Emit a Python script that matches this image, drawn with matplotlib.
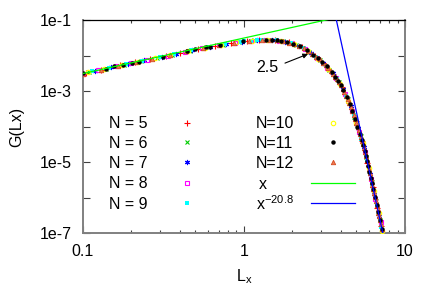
import matplotlib
matplotlib.use("Agg")
import matplotlib.pyplot as plt
import numpy as np
from matplotlib.ticker import LogLocator, FixedLocator, NullFormatter, FixedFormatter

plt.rcParams['font.family'] = ['Liberation Sans', 'DejaVu Sans']
plt.rcParams['mathtext.default'] = 'regular'

# ---------------- data ----------------
n5_x = [0.105, 0.13, 0.17, 0.21, 0.26, 0.33, 0.40, 0.52, 0.66, 0.83, 1.05, 1.25, 1.55, 1.9, 2.3,
        2.75, 3.2, 3.6, 4.05, 4.5, 4.95, 5.4, 5.85, 6.3, 6.75, 7.1]
n5_g = [3.24e-3, 3.98e-3, 5.25e-3, 6.46e-3, 7.76e-3, 9.77e-3, 1.17e-2, 1.55e-2, 1.86e-2, 2.19e-2,
        2.57e-2, 2.72e-2, 2.69e-2, 2.34e-2, 1.70e-2, 1.00e-2, 5.37e-3, 2.95e-3, 1.32e-3, 4.68e-4,
        1.41e-4, 3.98e-5, 9.55e-6, 2.04e-6, 5.01e-7, 1.62e-7]

n6_x = [0.11, 0.14, 0.18, 0.23, 0.29, 0.36, 0.46, 0.58, 0.74, 0.93, 1.15, 1.45, 1.75, 2.1, 2.55,
        2.95, 3.4, 3.9, 4.4, 4.85, 5.3, 5.75, 6.2, 6.6, 7.0]
n6_g = [3.47e-3, 4.27e-3, 5.50e-3, 6.92e-3, 8.51e-3, 1.05e-2, 1.38e-2, 1.70e-2, 2.00e-2, 2.40e-2,
        2.66e-2, 2.75e-2, 2.51e-2, 2.00e-2, 1.29e-2, 7.59e-3, 3.98e-3, 1.78e-3, 5.89e-4, 1.86e-4,
        5.25e-5, 1.35e-5, 2.82e-6, 7.94e-7, 2.34e-7]

n7_x = [0.12, 0.15, 0.19, 0.24, 0.31, 0.38, 0.48, 0.62, 0.78, 0.97, 1.2, 1.5, 1.8, 2.2, 2.6,
        3.1, 3.55, 4.1, 4.6, 5.1, 5.55, 6.05, 6.45, 6.9]
n7_g = [3.72e-3, 4.68e-3, 5.89e-3, 7.41e-3, 9.12e-3, 1.12e-2, 1.41e-2, 1.78e-2, 2.14e-2, 2.45e-2,
        2.69e-2, 2.72e-2, 2.45e-2, 1.86e-2, 1.20e-2, 6.17e-3, 3.16e-3, 1.17e-3, 3.72e-4, 9.12e-5,
        2.57e-5, 4.68e-6, 1.26e-6, 3.09e-7]

n8_x = [0.10, 0.125, 0.16, 0.2, 0.25, 0.34, 0.43, 0.55, 0.7, 0.88, 1.1, 1.35, 1.65, 2.0, 2.4,
        2.85, 3.3, 3.75, 4.25, 4.7, 5.2, 5.65, 6.15, 6.55, 7.05]
n8_g = [3.09e-3, 3.80e-3, 5.01e-3, 6.17e-3, 7.59e-3, 1.00e-2, 1.29e-2, 1.62e-2, 1.95e-2, 2.29e-2,
        2.63e-2, 2.75e-2, 2.63e-2, 2.19e-2, 1.51e-2, 8.71e-3, 4.57e-3, 2.34e-3, 8.32e-4, 2.82e-4,
        6.92e-5, 1.91e-5, 3.31e-6, 9.12e-7, 2.00e-7]

n9_x = [0.115, 0.145, 0.185, 0.235, 0.3, 0.37, 0.47, 0.6, 0.76, 0.95, 1.0, 1.1, 1.2, 1.3, 1.6,
        1.95, 2.35, 2.8, 3.25, 3.8, 4.3, 4.8, 5.35, 5.8, 6.25, 6.7, 7.12]
n9_g = [3.55e-3, 4.47e-3, 5.69e-3, 7.08e-3, 8.91e-3, 1.08e-2, 1.40e-2, 1.74e-2, 2.09e-2, 2.43e-2,
        2.51e-2, 2.63e-2, 2.72e-2, 2.75e-2, 2.66e-2, 2.24e-2, 1.58e-2, 9.33e-3, 5.01e-3, 2.14e-3,
        7.41e-4, 2.14e-4, 4.57e-5, 1.12e-5, 2.40e-6, 5.75e-7, 1.51e-7]

n10_x = [0.108, 0.135, 0.175, 0.22, 0.28, 0.35, 0.45, 0.57, 0.72, 0.9, 1.12, 1.4, 1.7, 2.05, 2.5,
         2.9, 3.35, 3.95, 4.45, 5.0, 5.45, 5.95, 6.4, 6.85, 7.2]
n10_g = [3.39e-3, 4.17e-3, 5.37e-3, 6.76e-3, 8.32e-3, 1.02e-2, 1.35e-2, 1.68e-2, 1.97e-2, 2.34e-2,
         2.63e-2, 2.75e-2, 2.57e-2, 2.09e-2, 1.35e-2, 8.13e-3, 4.27e-3, 1.62e-3, 5.25e-4, 1.23e-4,
         3.47e-5, 6.61e-6, 1.48e-6, 3.63e-7, 1.12e-7]

n11_x = [0.101, 0.139, 0.157, 0.179, 0.201, 0.223, 0.316, 0.442, 0.497, 0.580, 0.616, 0.711, 0.99,
         1.38, 1.49, 1.60, 1.71, 1.84, 2.02, 2.23, 2.45, 2.70, 2.88, 3.04, 3.26, 3.51, 3.70, 3.85,
         4.00, 4.14, 4.34, 4.55, 4.72, 4.89, 5.07, 5.25, 5.38, 5.51, 5.62, 5.72, 5.81, 5.91, 6.02,
         6.12, 6.23, 6.35, 6.51, 6.67, 6.82, 6.99, 7.16]
n11_g = [3.16e-3, 4.27e-3, 4.90e-3, 5.50e-3, 6.17e-3, 6.76e-3, 9.33e-3, 1.32e-2, 1.48e-2, 1.70e-2,
         1.78e-2, 1.95e-2, 2.51e-2, 2.75e-2, 2.72e-2, 2.66e-2, 2.57e-2, 2.40e-2, 2.14e-2, 1.82e-2,
         1.45e-2, 1.05e-2, 8.51e-3, 6.76e-3, 4.90e-3, 3.39e-3, 2.51e-3, 1.95e-3, 1.48e-3, 1.07e-3,
         6.76e-4, 4.17e-4, 2.69e-4, 1.66e-4, 1.00e-4, 6.03e-5, 4.17e-5, 2.95e-5, 2.09e-5, 1.48e-5,
         1.10e-5, 7.59e-6, 5.13e-6, 3.63e-6, 2.57e-6, 1.74e-6, 1.05e-6, 6.31e-7, 3.98e-7, 2.40e-7,
         1.32e-7]

n12_x = [0.10, 0.13, 0.165, 0.21, 0.27, 0.35, 0.44, 0.56, 0.7, 0.87, 1.07, 1.3, 1.45,
         1.6, 1.75, 1.9, 2.05, 2.2, 2.35, 2.5, 2.65, 2.8, 2.95, 3.1, 3.22, 3.34, 3.46, 3.58, 3.7,
         3.8, 3.9, 4.0, 4.1, 4.2, 4.3, 4.4, 4.5, 4.6, 4.7, 4.8, 4.9, 5.0, 5.08, 5.16, 5.24, 5.32,
         5.4, 5.48, 5.56, 5.64, 5.72, 5.8, 5.88, 5.96, 6.04, 6.12, 6.2, 6.28, 6.36, 6.44, 6.52,
         6.6, 6.68, 6.76, 6.84, 6.92, 7.0, 7.08, 7.16]
n12_g = [3.09e-3, 3.98e-3, 5.13e-3, 6.46e-3, 8.13e-3, 1.02e-2, 1.32e-2, 1.66e-2, 1.95e-2, 2.29e-2,
         2.60e-2, 2.75e-2, 2.75e-2,
         2.66e-2, 2.51e-2, 2.32e-2, 2.09e-2, 1.86e-2, 1.62e-2, 1.35e-2, 1.12e-2, 9.33e-3, 7.76e-3,
         6.17e-3, 5.25e-3, 4.37e-3, 3.63e-3, 3.02e-3, 2.51e-3, 2.14e-3, 1.78e-3, 1.48e-3, 1.17e-3,
         9.33e-4, 7.41e-4, 5.89e-4, 4.68e-4, 3.63e-4, 2.82e-4, 2.14e-4, 1.62e-4, 1.23e-4, 9.77e-5,
         7.76e-5, 6.17e-5, 4.90e-5, 3.98e-5, 3.16e-5, 2.51e-5, 1.95e-5, 1.48e-5, 1.12e-5, 8.51e-6,
         6.46e-6, 4.79e-6, 3.63e-6, 2.82e-6, 2.19e-6, 1.70e-6, 1.32e-6, 1.02e-6, 7.94e-7, 6.17e-7,
         4.79e-7, 3.72e-7, 2.95e-7, 2.29e-7, 1.74e-7, 1.32e-7]

# power-law guide lines: G = a * x^p
lin_coef, lin_exp = 0.031, 1.0
pow_x0, pow_exp = 3.75, -20.8
line_x = [0.1, 10.0]

series_labels = ['N = 5', 'N = 6', 'N = 7', 'N = 8', 'N = 9', 'N=10', 'N=11', 'N=12']
line_labels = ['x', 'x$^{-20.8}$']

x_ticks = [0.1, 1, 10]
x_ticklabels = ['0.1', '1', '10']
y_ticks = [1e-7, 1e-6, 1e-5, 1e-4, 1e-3, 1e-2, 1e-1]
y_ticklabels = ['1e-7', '', '1e-5', '', '1e-3', '', '1e-1']

annot_text = '2.5'
annot_tip = (2.5, 1.1e-2)
annot_tail = (1.80, 6.1e-3)
annot_textpos = (1.39, 4.7e-3)

# ---------------- figure ----------------
W, H = 436, 305
fig = plt.figure(figsize=(W / 100, H / 100), dpi=100)
ax = fig.add_axes([82.7 / W, 1 - 233 / H, (405 - 82.7) / W, (233 - 20) / H])
ax.set_xscale('log')
ax.set_yscale('log')
ax.set_xlim(0.1, 10)
ax.set_ylim(1e-7, 1e-1)

ms = 3.2
styles = [
    dict(marker='+', color='#ff0000', ms=ms + 0.8, mew=0.8, ls='none'),
    dict(marker='x', color='#00cc00', ms=ms, mew=0.8, ls='none'),
    dict(marker=(6, 2, 0), color='#0000ff', ms=ms + 0.5, mew=0.8, ls='none'),
    dict(marker='s', mfc='none', mec='#ff00ff', ms=ms, mew=0.8, ls='none'),
    dict(marker='s', color='#00ffff', ms=ms, ls='none', mew=0),
    dict(marker='o', mfc='none', mec='#ffff00', ms=ms, mew=0.8, ls='none'),
    dict(marker='o', color='#000000', ms=ms, ls='none', mew=0),
    dict(marker='^', mfc='#f07850', mec='#d24a20', ms=ms, mew=0.6, ls='none'),
]
data = [(n5_x, n5_g), (n6_x, n6_g), (n7_x, n7_g), (n8_x, n8_g), (n9_x, n9_g),
        (n10_x, n10_g), (n11_x, n11_g), (n12_x, n12_g)]
zorders = [3, 3, 3, 3, 3, 3, 5, 4]
for (xs, gs), st, z in zip(data, styles, zorders):
    ax.plot(xs, gs, zorder=z, **st)

lx = np.array(line_x)
ax.plot(lx, lin_coef * lx ** lin_exp, color='#00ff00', lw=0.9, zorder=6)
ax.plot(lx, 0.1 * (lx / pow_x0) ** pow_exp, color='#0000ff', lw=0.9, zorder=6)

# annotation
ax.annotate('', xy=annot_tip, xytext=annot_tail,
            arrowprops=dict(arrowstyle='-|>', color='black', lw=0.8,
                            mutation_scale=7, shrinkA=0, shrinkB=0), zorder=7)
ax.text(*annot_textpos, annot_text, fontsize=11.5, ha='center', va='center', zorder=7)

# ---------------- manual legend (gnuplot style) ----------------
col1_text_x, col1_mark_x = 0.0816, 0.3227
col2_text_x, col2_mark_x = 0.5377, 0.7757
line_half = 0.0683
row_base = [0.4915, 0.399, 0.305, 0.210, 0.114]
row_mark = [0.518, 0.426, 0.332, 0.236, 0.141]
row2_base = [0.4915, 0.399, 0.305, 0.2066, 0.108]
for i in range(5):
    ax.text(col1_text_x, row_base[i], series_labels[i], transform=ax.transAxes,
            fontsize=11.5, ha='left', va='baseline')
    ax.plot([col1_mark_x], [row_mark[i]], transform=ax.transAxes, clip_on=False, **styles[i])
for i in range(3):
    ax.text(col2_text_x, row2_base[i], series_labels[5 + i], transform=ax.transAxes,
            fontsize=11.5, ha='left', va='baseline')
    ax.plot([col2_mark_x], [row_mark[i]], transform=ax.transAxes, clip_on=False, **styles[5 + i])
ax.text(col2_text_x + 0.01, row2_base[3], line_labels[0], transform=ax.transAxes,
        fontsize=11.5, ha='left', va='baseline')
ax.text(col2_text_x, row2_base[4], line_labels[1], transform=ax.transAxes,
        fontsize=11.5, ha='left', va='baseline')
ax.plot([col2_mark_x - line_half, col2_mark_x + line_half], [row_mark[3], row_mark[3]],
        transform=ax.transAxes, color='#00ff00', lw=0.9, clip_on=False)
ax.plot([col2_mark_x - line_half, col2_mark_x + line_half], [row_mark[4], row_mark[4]],
        transform=ax.transAxes, color='#0000ff', lw=0.9, clip_on=False)

# ---------------- axes styling ----------------
for s in ['left', 'bottom', 'right']:
    ax.spines[s].set_color('#808080')
    ax.spines[s].set_linewidth(1.4)
ax.spines['top'].set_color('black')
ax.spines['top'].set_linewidth(0.9)

ax.xaxis.set_major_locator(FixedLocator(x_ticks))
ax.xaxis.set_major_formatter(FixedFormatter(x_ticklabels))
ax.xaxis.set_minor_locator(LogLocator(base=10, subs=np.arange(2, 10)))
ax.xaxis.set_minor_formatter(NullFormatter())
ax.yaxis.set_major_locator(FixedLocator(y_ticks))
ax.yaxis.set_major_formatter(FixedFormatter(y_ticklabels))
ax.yaxis.set_minor_locator(FixedLocator([]))

ax.tick_params(which='both', direction='in', top=True, right=True, colors='#404040',
               labelcolor='black', labelsize=11.5)
ax.tick_params(which='major', length=5, width=0.8)
ax.tick_params(which='minor', length=2.5, width=0.8)
ax.tick_params(axis='x', which='major', pad=8)
ax.tick_params(axis='y', which='major', pad=8)

ax.set_xlabel('L$_x$', fontsize=11.5, labelpad=6)
ax.set_ylabel('G(Lx)', fontsize=11.5, labelpad=11)

fig.savefig('out.png', dpi=100)
